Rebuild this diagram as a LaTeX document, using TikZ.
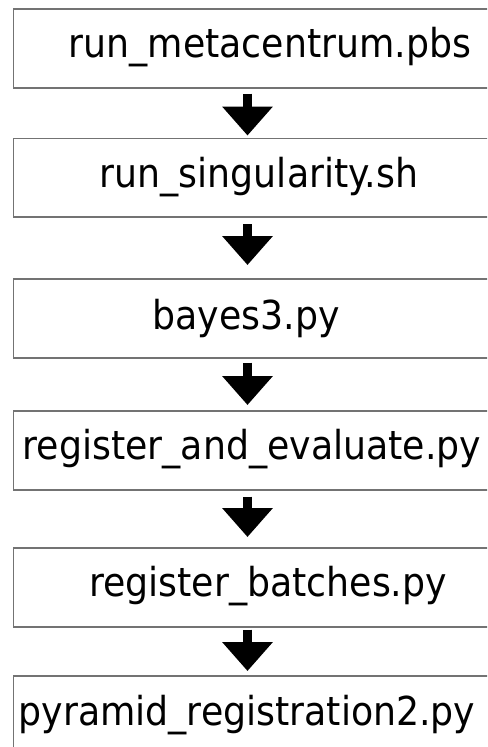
\documentclass[tikz,border=0pt]{standalone}
\usepackage{fontspec}
\setmainfont{DejaVu Sans}[FakeStretch=0.91]
\usepackage{tikz}
\usetikzlibrary{arrows.meta,calc}

\begin{document}
\begin{tikzpicture}[x=0.02cm, y=-0.02cm,
    filebox/.style={draw=black!55, line width=1pt, rectangle, anchor=north west, minimum width=10cm, minimum height=1.58cm, inner sep=0pt},
    fname/.style={font=\fontsize{22.7}{27}\selectfont, inner sep=0pt},
    flow/.style={line width=0.18cm, -{Triangle[width=0.98cm,length=0.58cm]}}]
    \useasboundingbox (0,0) rectangle (487,747);
    \clip (0,0) rectangle (487,747);
    \coordinate (ax) at (247.5,0);

    \node[filebox] (pbs) at (12.5,8) {};
    \node[fname] (pbstxt) at (270,47.5) {run\_metacentrum.pbs};

    \node[filebox] (sing) at (12.5,137.5) {};
    \node[fname] (singtxt) at (259,177) {run\_singularity.sh};

    \node[filebox] (bayes) at (12.5,278) {};
    \node[fname] (bayestxt) at (246,318) {bayes3.py};

    \node[filebox] (regev) at (12.5,410) {};
    \node[fname] (regevtxt) at (252,449.5) {register\_and\_evaluate.py};

    \node[filebox] (batch) at (12.5,547) {};
    \node[fname] (batchtxt) at (268,586) {register\_batches.py};

    \node[filebox] (pyr) at (12.5,675) {};
    \node[fname] (pyrtxt) at (247,715) {pyramid\_registration2.py};

    \draw[flow, shorten <=0.1cm, shorten >=0.04cm] (pbs.south -| ax) -- (sing.north -| ax);
    \draw[flow, shorten <=0.12cm, shorten >=0.26cm] (sing.south -| ax) -- (bayes.north -| ax);
    \draw[flow, shorten <=0.08cm, shorten >=0.1cm] (bayes.south -| ax) -- (regev.north -| ax);
    \draw[flow, shorten <=0.12cm, shorten >=0.2cm] (regev.south -| ax) -- (batch.north -| ax);
    \draw[flow, shorten <=0.04cm, shorten >=0.08cm] (batch.south -| ax) -- (pyr.north -| ax);
\end{tikzpicture}
\end{document}
